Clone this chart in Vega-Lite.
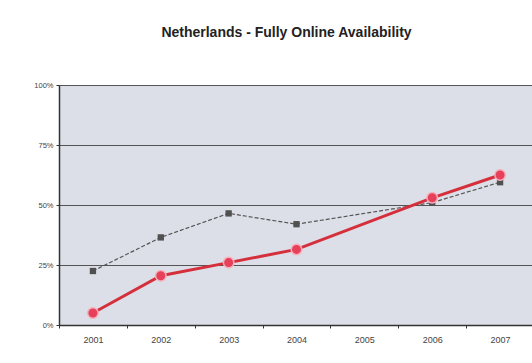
{
  "$schema": "https://vega.github.io/schema/vega-lite/v6.json",
  "width": 475,
  "height": 240,
  "autosize": "none",
  "padding": {"left": 59, "top": 85, "right": 0, "bottom": 38},
  "background": "white",
  "title": {
    "text": "Netherlands - Fully Online Availability",
    "font": "Liberation Sans",
    "fontSize": 14,
    "fontWeight": "bold",
    "color": "#222222",
    "offset": 41,
    "dx": -10
  },
  "config": {
    "view": {"fill": "#dcdfe7", "stroke": "#b0b4bc", "strokeWidth": 1}
  },
  "data": {
    "values": [
      {"year": "2001", "series": "Benchmark", "value": 22.5},
      {"year": "2002", "series": "Benchmark", "value": 36.5},
      {"year": "2003", "series": "Benchmark", "value": 46.5},
      {"year": "2004", "series": "Benchmark", "value": 42},
      {"year": "2006", "series": "Benchmark", "value": 51},
      {"year": "2007", "series": "Benchmark", "value": 59.5},
      {"year": "2001", "series": "Netherlands", "value": 5},
      {"year": "2002", "series": "Netherlands", "value": 20.5},
      {"year": "2003", "series": "Netherlands", "value": 26},
      {"year": "2004", "series": "Netherlands", "value": 31.5},
      {"year": "2006", "series": "Netherlands", "value": 53},
      {"year": "2007", "series": "Netherlands", "value": 62.5}
    ]
  },
  "encoding": {
    "x": {
      "field": "year",
      "type": "ordinal",
      "scale": {"domain": ["2001", "2002", "2003", "2004", "2005", "2006", "2007"]},
      "axis": {
        "title": null,
        "labelAngle": 0,
        "labelFont": "Liberation Sans",
        "labelFontSize": 9,
        "labelColor": "#444444",
        "labelPadding": 7,
        "tickBand": "extent",
        "tickSize": 3,
        "tickColor": "#333333",
        "domainColor": "#333333",
        "domainWidth": 1.5,
        "grid": false
      }
    },
    "y": {
      "field": "value",
      "type": "quantitative",
      "scale": {"domain": [0, 100], "nice": false},
      "axis": {
        "title": null,
        "values": [0, 25, 50, 75, 100],
        "labelExpr": "datum.value + '%'",
        "labelFont": "Liberation Sans",
        "labelFontSize": 7.5,
        "labelColor": "#444444",
        "labelPadding": 3,
        "tickSize": 3,
        "tickColor": "#333333",
        "domainColor": "#333333",
        "domainWidth": 1.5,
        "grid": true,
        "gridColor": "#555555",
        "gridWidth": 1
      }
    }
  },
  "layer": [
    {
      "transform": [{"filter": "datum.series == 'Benchmark'"}],
      "mark": {"type": "line", "color": "#555555", "strokeWidth": 1.2, "strokeDash": [4, 2]}
    },
    {
      "transform": [{"filter": "datum.series == 'Benchmark'"}],
      "mark": {"type": "point", "shape": "square", "filled": true, "size": 40, "color": "#505050", "opacity": 1}
    },
    {
      "transform": [{"filter": "datum.series == 'Netherlands'"}],
      "mark": {"type": "line", "color": "#d52f3c", "strokeWidth": 3}
    },
    {
      "transform": [{"filter": "datum.series == 'Netherlands'"}],
      "mark": {"type": "point", "shape": "circle", "filled": true, "size": 110, "fill": "#e6405a", "stroke": "#f5b0bb", "strokeWidth": 1.5, "opacity": 1}
    }
  ]
}
